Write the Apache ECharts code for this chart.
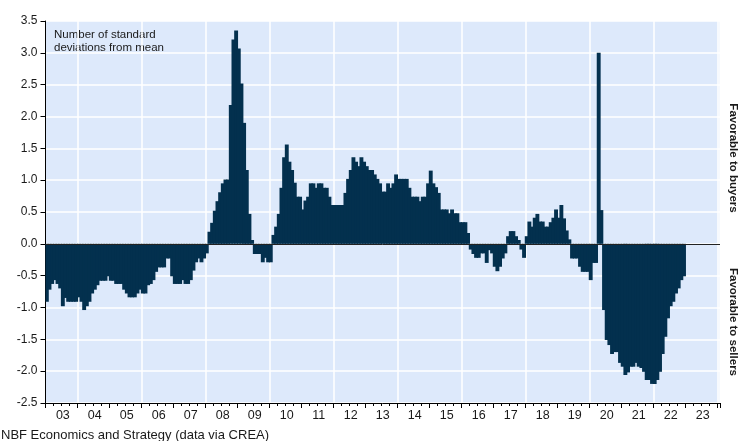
<!DOCTYPE html>
<html>
<head>
<meta charset="utf-8">
<script src="https://cdn.jsdelivr.net/npm/echarts@6/dist/echarts.min.js"></script>
<style>
  html, body { margin: 0; padding: 0; background: #ffffff; }
  #chart { width: 748px; height: 441px; }
</style>
</head>
<body>
<div id="chart"></div>
<script>
// Sales-to-new-listings gap, standard deviations from mean, monthly (Jan..Dec)
const y2003 = [-0.91, -0.72, -0.63, -0.57, -0.63, -0.70, -0.98, -0.85, -0.91, -0.91, -0.91, -0.91];
const y2004 = [-0.84, -0.91, -1.04, -0.98, -0.91, -0.78, -0.72, -0.65, -0.58, -0.58, -0.58, -0.51];
const y2005 = [-0.58, -0.58, -0.63, -0.63, -0.63, -0.72, -0.78, -0.84, -0.84, -0.84, -0.78, -0.72];
const y2006 = [-0.78, -0.78, -0.65, -0.63, -0.57, -0.44, -0.37, -0.37, -0.37, -0.23, -0.23, -0.51];
const y2007 = [-0.63, -0.63, -0.63, -0.57, -0.63, -0.63, -0.57, -0.42, -0.29, -0.23, -0.29, -0.23];
const y2008 = [-0.15, 0.19, 0.33, 0.52, 0.67, 0.81, 0.95, 1.01, 1.01, 2.18, 3.21, 3.35];
const y2009 = [3.07, 2.52, 1.90, 1.16, 0.47, 0.06, -0.16, -0.16, -0.16, -0.29, -0.22, -0.29];
const y2010 = [-0.29, 0.14, 0.27, 0.47, 0.88, 1.36, 1.56, 1.29, 1.16, 0.96, 0.74, 0.74];
const y2011 = [0.54, 0.68, 0.74, 0.95, 0.95, 0.88, 0.95, 0.95, 0.88, 0.88, 0.74, 0.61];
const y2012 = [0.61, 0.61, 0.61, 0.61, 0.80, 1.02, 1.16, 1.36, 1.29, 1.22, 1.36, 1.29];
const y2013 = [1.22, 1.16, 1.16, 1.09, 1.02, 0.95, 0.82, 0.82, 0.95, 0.88, 0.95, 1.09];
const y2014 = [1.02, 1.02, 1.02, 1.02, 0.88, 0.74, 0.74, 0.74, 0.67, 0.74, 0.74, 0.95];
const y2015 = [1.15, 0.95, 0.89, 0.80, 0.54, 0.54, 0.54, 0.48, 0.54, 0.48, 0.48, 0.34];
const y2016 = [0.34, 0.34, 0.17, -0.09, -0.16, -0.22, -0.22, -0.15, -0.15, -0.30, -0.10, -0.15];
const y2017 = [-0.36, -0.43, -0.36, -0.23, -0.15, 0.12, 0.20, 0.20, 0.12, 0.06, -0.09, -0.22];
const y2018 = [0.12, 0.35, 0.27, 0.41, 0.47, 0.35, 0.35, 0.27, 0.27, 0.34, 0.41, 0.54];
const y2019 = [0.41, 0.61, 0.40, 0.21, 0.07, -0.23, -0.23, -0.23, -0.36, -0.44, -0.44, -0.44];
const y2020 = [-0.57, -0.30, -0.30, 3.00, 0.53, -1.04, -1.51, -1.59, -1.73, -1.70, -1.70, -1.87];
const y2021 = [-1.93, -2.06, -2.02, -1.93, -1.93, -1.87, -1.93, -1.95, -2.01, -2.14, -2.14, -2.20];
const y2022 = [-2.20, -2.14, -2.01, -1.73, -1.46, -1.17, -0.98, -0.91, -0.78, -0.70, -0.57, -0.51];

// Year tick labels, one per calendar year on the axis
const yearLabels = ['03', '04', '05', '06', '07', '08', '09', '10', '11', '12', '13',
                    '14', '15', '16', '17', '18', '19', '20', '21', '22', '23'];
const firstYear = 2003;
const axisMonths = 253; // Jan 2003 .. Jan 2024

const values = [].concat(y2003, y2004, y2005, y2006, y2007, y2008, y2009, y2010,
  y2011, y2012, y2013, y2014, y2015, y2016, y2017, y2018, y2019, y2020, y2021, y2022);

const months = [];
for (let i = 0; i < axisMonths; i++) {
  const yr = firstYear + Math.floor(i / 12);
  months.push(yr + '-' + String((i % 12) + 1).padStart(2, '0'));
}

const FONT = '"Liberation Sans", Arial, Helvetica, sans-serif';
const INK = '#1a1a1a';
const BAR = '#03304e';

const chart = echarts.init(document.getElementById('chart'), null, { renderer: 'canvas' });

chart.setOption({
  animation: false,
  grid: {
    left: 45.5, right: 28, top: 21, bottom: 38,
    show: true, backgroundColor: '#dde9fb', borderWidth: 0
  },
  xAxis: [
    {
      type: 'category',
      data: months,
      boundaryGap: true,
      axisLine: { show: true, onZero: false, lineStyle: { color: '#000', width: 1 } },
      axisTick: { show: true, interval: (i) => i % 3 === 0, length: 3, lineStyle: { color: '#000' } },
      axisLabel: {
        interval: (i) => i % 12 === 6,
        formatter: (v, i) => yearLabels[Math.floor(i / 12)],
        color: INK, fontSize: 12.5, fontFamily: FONT, margin: 6
      },
      splitLine: { show: true, interval: (i) => i % 24 === 12, lineStyle: { color: '#ffffff', width: 1.5 } }
    },
    {
      type: 'category',
      data: months,
      position: 'bottom',
      boundaryGap: true,
      axisLine: { show: false, onZero: false },
      axisTick: { show: true, interval: (i) => i % 12 === 0, length: 5, lineStyle: { color: '#000' } },
      axisLabel: { show: false },
      splitLine: { show: false }
    }
  ],
  yAxis: {
    type: 'value',
    min: -2.5, max: 3.5, interval: 0.5,
    axisLine: { show: true, lineStyle: { color: '#000', width: 1 } },
    axisTick: { show: true, length: 5, lineStyle: { color: '#000' } },
    axisLabel: {
      formatter: (v) => v.toFixed(1),
      color: INK, fontSize: 12, fontFamily: FONT, margin: 8
    },
    splitLine: { show: true, lineStyle: { color: '#ffffff', width: 1.5 } }
  },
  series: [{
    type: 'bar',
    xAxisIndex: 0,
    data: values,
    barWidth: 3.9,
    itemStyle: { color: BAR },
    markLine: {
      silent: true,
      symbol: 'none',
      label: { show: false },
      lineStyle: { color: '#222222', width: 1, type: 'solid' },
      data: [{ yAxis: 0 }]
    }
  }],
  graphic: [
    {
      type: 'text', x: 54, y: 28,
      style: {
        text: 'Number of standard\ndeviations from mean',
        font: '11.5px ' + FONT, fill: INK, lineHeight: 13
      }
    },
    {
      type: 'text', x: 733, y: 158, rotation: -Math.PI / 2,
      style: {
        text: 'Favorable to buyers', font: 'bold 11.5px ' + FONT, fill: INK,
        align: 'center', verticalAlign: 'middle'
      }
    },
    {
      type: 'text', x: 733, y: 322, rotation: -Math.PI / 2,
      style: {
        text: 'Favorable to sellers', font: 'bold 11.5px ' + FONT, fill: INK,
        align: 'center', verticalAlign: 'middle'
      }
    },
    {
      type: 'text', x: 1, y: 429,
      style: {
        text: 'NBF Economics and Strategy (data via CREA)',
        font: '13px ' + FONT, fill: INK
      }
    }
  ]
});
</script>
</body>
</html>
